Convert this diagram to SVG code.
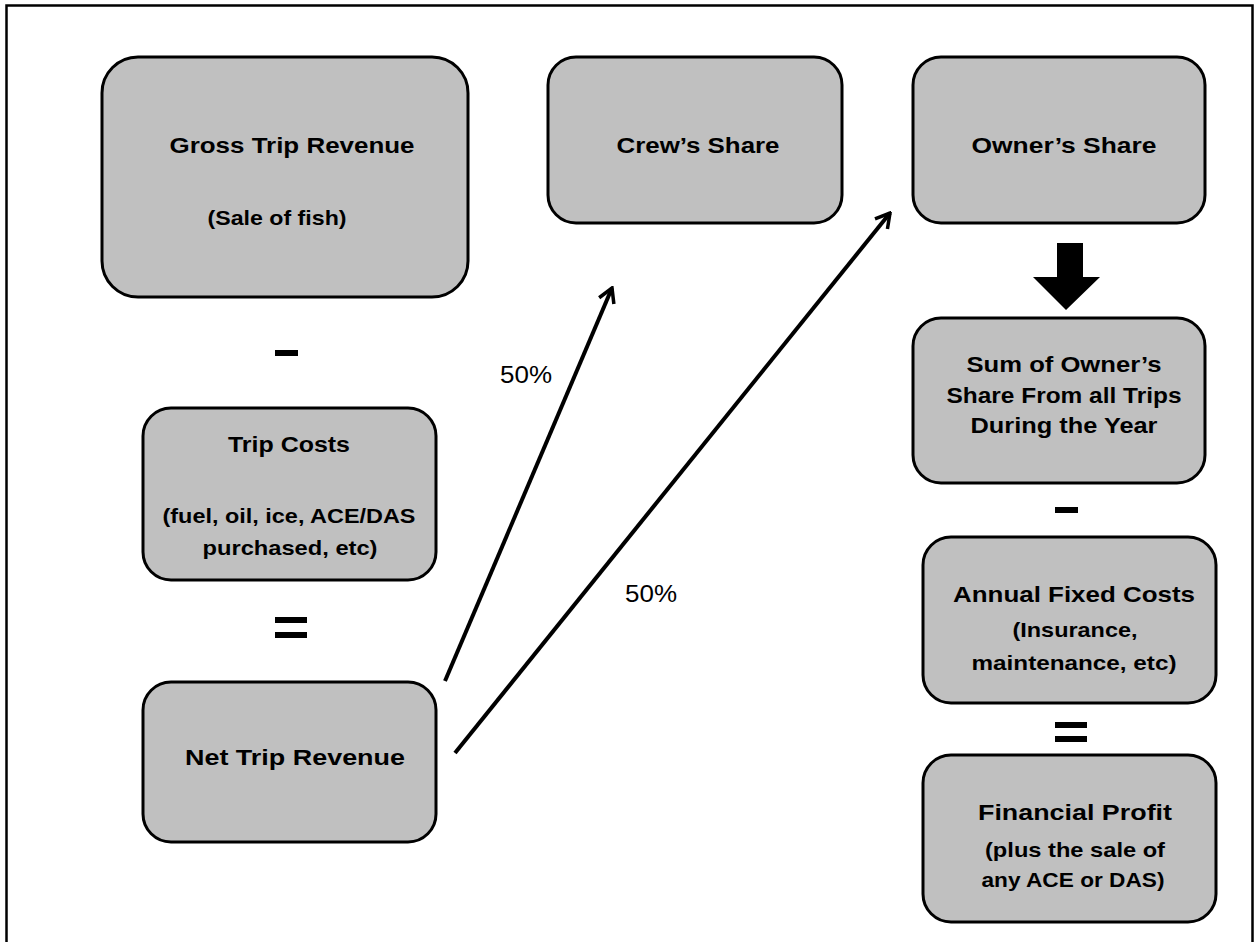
<svg xmlns="http://www.w3.org/2000/svg" width="1257" height="942" viewBox="0 0 1257 942">
<defs>
<style>
.box{fill:#c0c0c0;stroke:#000;stroke-width:3}
.t{font-family:"Liberation Sans",Arial,sans-serif;font-weight:bold;font-size:22.5px;fill:#000;text-anchor:middle}
.s{font-family:"Liberation Sans",Arial,sans-serif;font-weight:bold;font-size:20.5px;fill:#000;text-anchor:middle}
.p{font-family:"Liberation Sans",Arial,sans-serif;font-size:24px;fill:#000;text-anchor:middle}
.op{fill:#000}
.conn{stroke:#000;stroke-width:4;fill:none}
</style>
<marker id="ah" viewBox="0 0 20 20" refX="18" refY="10" markerWidth="20" markerHeight="20" markerUnits="userSpaceOnUse" orient="auto">
<path d="M4,2 L18,10 L4,18" fill="none" stroke="#000" stroke-width="3.5" stroke-linejoin="miter"/>
</marker>
</defs>
<rect x="0" y="0" width="1257" height="942" fill="#fff"/>
<rect x="6.5" y="5.5" width="1246" height="945" fill="none" stroke="#000" stroke-width="2.5"/>

<g id="gross">
<rect class="box" x="102" y="57" width="366" height="240" rx="36"/>
<text class="t" x="292" y="153" textLength="245" lengthAdjust="spacingAndGlyphs">Gross Trip Revenue</text>
<text class="s" x="277" y="225" textLength="139" lengthAdjust="spacingAndGlyphs">(Sale of fish)</text>
</g>
<g id="crew">
<rect class="box" x="548" y="57" width="294" height="166" rx="28"/>
<text class="t" x="698" y="153" textLength="163" lengthAdjust="spacingAndGlyphs">Crew’s Share</text>
</g>
<g id="owner">
<rect class="box" x="913" y="57" width="292" height="166" rx="28"/>
<text class="t" x="1064" y="153" textLength="185" lengthAdjust="spacingAndGlyphs">Owner’s Share</text>
</g>
<g id="sum">
<rect class="box" x="913" y="318" width="292" height="165" rx="28"/>
<text class="t" x="1064" y="372" textLength="195" lengthAdjust="spacingAndGlyphs">Sum of Owner’s</text>
<text class="t" x="1064" y="403" textLength="235" lengthAdjust="spacingAndGlyphs">Share From all Trips</text>
<text class="t" x="1064" y="433" textLength="187" lengthAdjust="spacingAndGlyphs">During the Year</text>
</g>
<g id="trip">
<rect class="box" x="143" y="408" width="293" height="172" rx="28"/>
<text class="t" x="289" y="452" textLength="122" lengthAdjust="spacingAndGlyphs">Trip Costs</text>
<text class="s" x="289" y="523" textLength="253" lengthAdjust="spacingAndGlyphs">(fuel, oil, ice, ACE/DAS</text>
<text class="s" x="290" y="555" textLength="175" lengthAdjust="spacingAndGlyphs">purchased, etc)</text>
</g>
<g id="net">
<rect class="box" x="143" y="682" width="293" height="160" rx="28"/>
<text class="t" x="295" y="765" textLength="220" lengthAdjust="spacingAndGlyphs">Net Trip Revenue</text>
</g>
<g id="annual">
<rect class="box" x="923" y="537" width="293" height="166" rx="28"/>
<text class="t" x="1074" y="602" textLength="242" lengthAdjust="spacingAndGlyphs">Annual Fixed Costs</text>
<text class="s" x="1075" y="637" textLength="125" lengthAdjust="spacingAndGlyphs">(Insurance,</text>
<text class="s" x="1074" y="670" textLength="205" lengthAdjust="spacingAndGlyphs">maintenance, etc)</text>
</g>
<g id="financial">
<rect class="box" x="923" y="755" width="293" height="167" rx="28"/>
<text class="t" x="1075" y="820" textLength="194" lengthAdjust="spacingAndGlyphs">Financial Profit</text>
<text class="s" x="1075" y="857" textLength="180" lengthAdjust="spacingAndGlyphs">(plus the sale of</text>
<text class="s" x="1073" y="887" textLength="183" lengthAdjust="spacingAndGlyphs">any ACE or DAS)</text>
</g>

<g id="operators">
<rect class="op" x="275" y="350" width="23" height="6"/>
<rect class="op" x="275" y="617" width="32" height="6"/>
<rect class="op" x="275" y="632" width="32" height="6"/>
<rect class="op" x="1055" y="507" width="23" height="6"/>
<rect class="op" x="1055" y="722" width="32" height="6"/>
<rect class="op" x="1055" y="736" width="32" height="6"/>
</g>

<g id="connectors">
<line class="conn" x1="445" y1="681" x2="612" y2="288" marker-end="url(#ah)"/>
<line class="conn" x1="455" y1="753" x2="890" y2="213" marker-end="url(#ah)"/>
<polygon points="1057,243 1083,243 1083,277 1100,277 1066,310 1033,277 1057,277" fill="#000"/>
<text class="p" x="526" y="383" textLength="52" lengthAdjust="spacingAndGlyphs">50%</text>
<text class="p" x="651" y="602" textLength="52" lengthAdjust="spacingAndGlyphs">50%</text>
</g>
</svg>
